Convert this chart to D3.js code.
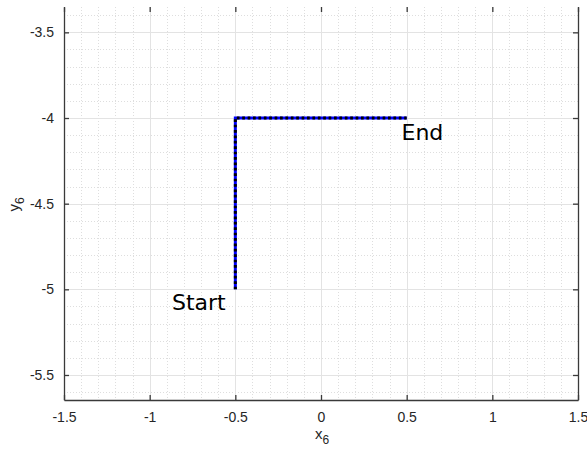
<!DOCTYPE html>
<html>
<head>
<meta charset="utf-8">
<script src="https://cdn.jsdelivr.net/npm/d3@7"></script>
<style>
  html, body { margin: 0; padding: 0; background: #fff; }
  svg { display: block; }
</style>
</head>
<body>
<svg id="chart" width="587" height="449"></svg>
<script>
// Path of the move: start, corner, end
const pathX = [-0.5, -0.5, 0.5];
const pathY = [-5, -4, -4];

// Annotations
const labelText = ["Start", "End"];
const labelX = [-0.87, 0.47];
const labelY = [-5.075, -4.085];

// Axis ticks
const xTicks = [-1.5, -1, -0.5, 0, 0.5, 1, 1.5];
const xTickLabels = ["-1.5", "-1", "-0.5", "0", "0.5", "1", "1.5"];
const yTicks = [-5.5, -5, -4.5, -4, -3.5];
const yTickLabels = ["-5.5", "-5", "-4.5", "-4", "-3.5"];

const xLimits = [-1.5, 1.5];
const yLimits = [-5.646, -3.352];

const svg = d3.select("#chart");
const padL = 64, padR = 578, padT = 7, padB = 400;

const x = d3.scaleLinear().domain(xLimits).range([padL, padR]);
const y = d3.scaleLinear().domain(yLimits).range([padB, padT]);

// Minor grid at 0.1 steps
const isMajor = d => Math.abs(d * 2 - Math.round(d * 2)) < 1e-6;
const minorX = d3.range(-15, 16).map(d => d / 10).filter(d => !isMajor(d));
const minorY = d3.range(-56, -33).map(d => d / 10).filter(d => !isMajor(d));

const grid = svg.append("g");
grid.selectAll(".mx").data(minorX).join("line")
  .attr("x1", d => Math.round(x(d)) + 0.5).attr("x2", d => Math.round(x(d)) + 0.5)
  .attr("y1", padT).attr("y2", padB)
  .attr("stroke", "#dedede").attr("stroke-width", 1).attr("stroke-dasharray", "1,2");
grid.selectAll(".my").data(minorY).join("line")
  .attr("y1", d => Math.round(y(d)) + 0.5).attr("y2", d => Math.round(y(d)) + 0.5)
  .attr("x1", padL).attr("x2", padR)
  .attr("stroke", "#dedede").attr("stroke-width", 1).attr("stroke-dasharray", "1,2");

// Major grid
grid.selectAll(".Mx").data(xTicks).join("line")
  .attr("x1", d => Math.round(x(d)) + 0.5).attr("x2", d => Math.round(x(d)) + 0.5)
  .attr("y1", padT).attr("y2", padB)
  .attr("stroke", "#e3e3e3").attr("stroke-width", 1);
grid.selectAll(".My").data(yTicks).join("line")
  .attr("y1", d => Math.round(y(d)) + 0.5).attr("y2", d => Math.round(y(d)) + 0.5)
  .attr("x1", padL).attr("x2", padR)
  .attr("stroke", "#e3e3e3").attr("stroke-width", 1);

// Axes (ticks drawn inward)
const axisColor = "#3a3a3a";
const fmtX = (d, i) => xTickLabels[i];
const fmtY = (d, i) => yTickLabels[i];

const gB = svg.append("g").attr("transform", `translate(0,${padB})`)
  .call(d3.axisBottom(x).tickValues(xTicks).tickFormat(fmtX).tickSizeInner(-5).tickSizeOuter(0).tickPadding(12));
const gL = svg.append("g").attr("transform", `translate(${padL},0)`)
  .call(d3.axisLeft(y).tickValues(yTicks).tickFormat(fmtY).tickSizeInner(-5).tickSizeOuter(0).tickPadding(10));
const gR = svg.append("g").attr("transform", `translate(${padR},0)`)
  .call(d3.axisRight(y).tickValues(yTicks).tickFormat("").tickSizeInner(-5).tickSizeOuter(0));
const gT = svg.append("g").attr("transform", `translate(0,${padT})`)
  .call(d3.axisTop(x).tickValues(xTicks).tickFormat("").tickSizeInner(-5).tickSizeOuter(0));
gT.select(".domain").remove();

[gB, gL, gR, gT].forEach(g => {
  g.selectAll(".domain").attr("stroke", axisColor).attr("stroke-width", 1.3);
  g.selectAll(".tick line").attr("stroke", axisColor).attr("stroke-width", 1.3);
  g.selectAll(".tick text")
    .attr("fill", "#262626")
    .style("font-family", "'Liberation Sans', Arial, sans-serif")
    .style("font-size", "14px");
});

// Axis titles
svg.append("text")
  .attr("x", x(0) - 6).attr("y", 439)
  .style("font-family", "'Liberation Sans', Arial, sans-serif")
  .style("font-size", "15px").attr("fill", "#262626")
  .html('x<tspan dy="5" font-size="12">6</tspan>');
svg.append("text")
  .attr("transform", `translate(19,${(padT + padB) / 2 + 8}) rotate(-90)`)
  .style("font-family", "'Liberation Sans', Arial, sans-serif")
  .style("font-size", "15px").attr("fill", "#262626")
  .html('y<tspan dy="5" font-size="12">6</tspan>');

// Path: solid blue with dotted black overlay
const pts = pathX.map((d, i) => [d, pathY[i]]);
const line = d3.line().x(d => x(d[0])).y(d => y(d[1]));
svg.append("path").attr("d", line(pts))
  .attr("fill", "none").attr("stroke", "#0000ff").attr("stroke-width", 3)
  .attr("stroke-linejoin", "miter");
svg.append("path").attr("d", line(pts))
  .attr("fill", "none").attr("stroke", "#000").attr("stroke-width", 3)
  .attr("stroke-dasharray", "2.7,2.7");

// Start / End labels
svg.selectAll(".lbl").data(labelText).join("text")
  .attr("x", (d, i) => x(labelX[i]))
  .attr("y", (d, i) => y(labelY[i]))
  .attr("dominant-baseline", "central")
  .style("font-family", "'DejaVu Sans', sans-serif")
  .style("font-size", "22px")
  .attr("fill", "#000")
  .text(d => d);
</script>
</body>
</html>
